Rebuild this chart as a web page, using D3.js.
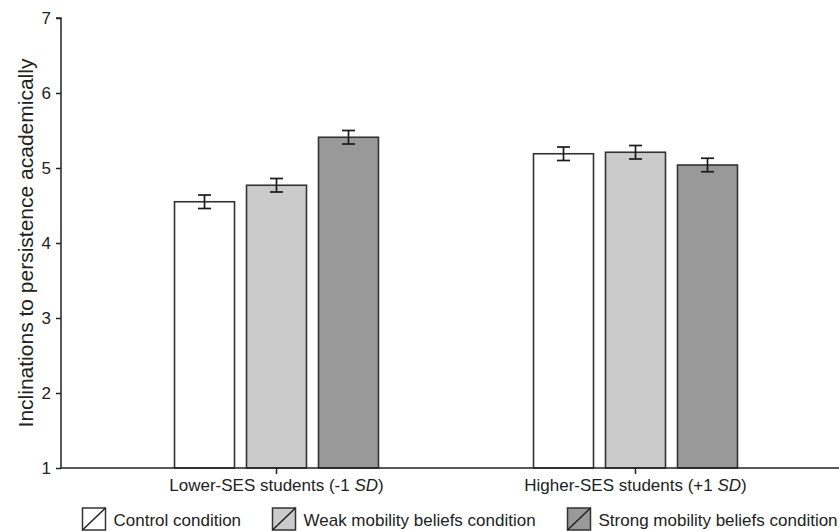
<!DOCTYPE html>
<html>
<head>
<meta charset="utf-8">
<script src="https://cdn.jsdelivr.net/npm/d3@7"></script>
<style>
  html, body { margin: 0; padding: 0; background: #fff; }
  svg { display: block; font-family: "Liberation Sans", Arial, sans-serif; }
</style>
</head>
<body>
<svg id="chart" width="839" height="531"></svg>
<script>
// Groups on the x axis and the three experimental conditions
const groups = ["Lower-SES students (-1 SD)", "Higher-SES students (+1 SD)"];
const groupMain = ["Lower-SES students (-1 ", "Higher-SES students (+1 "];
const conditions = ["Control condition", "Weak mobility beliefs condition", "Strong mobility beliefs condition"];
const fills = ["#ffffff", "#cbcbcb", "#999999"];

// Means for each condition within a group, and their standard errors
const controlMeans = [4.55, 5.19];
const weakMeans = [4.77, 5.21];
const strongMeans = [5.41, 5.04];
const controlErr = [0.09, 0.09];
const weakErr = [0.09, 0.09];
const strongErr = [0.09, 0.09];

const yTicks = [1, 2, 3, 4, 5, 6, 7];

const means = [controlMeans, weakMeans, strongMeans];
const errs = [controlErr, weakErr, strongErr];
const rows = [];
groups.forEach((g, gi) => {
  conditions.forEach((c, ci) => {
    rows.push({ group: g, cond: c, ci, value: means[ci][gi], err: errs[ci][gi] });
  });
});

const svg = d3.select("#chart");
const axisLeft = 61, axisBottom = 468, axisTop = 18;

const y = d3.scaleLinear().domain([1, 7]).range([axisBottom, axisTop]);
const x0 = d3.scaleBand().domain(groups).range([61, 851])
  .paddingInner(0.4318).paddingOuter(0.3162);
const x1 = d3.scaleBand().domain(conditions).range([0, x0.bandwidth()])
  .paddingInner(0.1667).paddingOuter(0);

// Bars
const g = svg.append("g");
g.selectAll("rect.bar").data(rows).join("rect")
  .attr("class", "bar")
  .attr("x", d => x0(d.group) + x1(d.cond))
  .attr("width", x1.bandwidth())
  .attr("y", d => y(d.value))
  .attr("height", d => y(1) - y(d.value))
  .attr("fill", d => fills[d.ci])
  .attr("stroke", "#333")
  .attr("stroke-width", 1.6);

// Error bars
const capHalf = 6.5;
const eb = g.selectAll("g.err").data(rows).join("g").attr("class", "err")
  .attr("stroke", "#1a1a1a").attr("stroke-width", 1.7);
eb.append("line")
  .attr("x1", d => x0(d.group) + x1(d.cond) + x1.bandwidth() / 2)
  .attr("x2", d => x0(d.group) + x1(d.cond) + x1.bandwidth() / 2)
  .attr("y1", d => y(d.value + d.err))
  .attr("y2", d => y(d.value - d.err));
[1, -1].forEach(s => {
  eb.append("line")
    .attr("x1", d => x0(d.group) + x1(d.cond) + x1.bandwidth() / 2 - capHalf)
    .attr("x2", d => x0(d.group) + x1(d.cond) + x1.bandwidth() / 2 + capHalf)
    .attr("y1", d => y(d.value + s * d.err))
    .attr("y2", d => y(d.value + s * d.err));
});

// Y axis
const yAxis = d3.axisLeft(y).tickValues(yTicks).tickSize(5).tickPadding(5)
  .tickFormat(d3.format("d"));
const yg = svg.append("g").attr("transform", `translate(${axisLeft},0)`).call(yAxis);
yg.select(".domain").attr("d", `M-5,${axisTop}H0V${axisBottom}`).attr("stroke", "#222").attr("stroke-width", 1.5);
yg.selectAll(".tick line").attr("stroke", "#222").attr("stroke-width", 1.5);
yg.selectAll(".tick text").attr("font-size", 17).attr("fill", "#222")
  .attr("font-family", "Liberation Sans, Arial, sans-serif");

// X axis
const xAxis = d3.axisBottom(x0).tickSize(6).tickFormat(() => "");
const xg = svg.append("g").attr("transform", `translate(0,${axisBottom})`).call(xAxis);
xg.select(".domain").attr("d", `M${axisLeft},0H839`).attr("stroke", "#222").attr("stroke-width", 1.5);
xg.selectAll(".tick line").attr("stroke", "#222").attr("stroke-width", 1.5);
xg.selectAll(".tick").append("text")
  .attr("y", 23).attr("text-anchor", "middle").attr("fill", "#222")
  .attr("font-size", 17).attr("font-family", "Liberation Sans, Arial, sans-serif")
  .each(function (d, i) {
    const t = d3.select(this);
    t.append("tspan").text(groupMain[i]);
    t.append("tspan").attr("font-style", "italic").text("SD");
    t.append("tspan").text(")");
  });

// Y axis title
svg.append("text")
  .attr("transform", `translate(33,${243}) rotate(-90)`)
  .attr("text-anchor", "middle")
  .attr("font-size", 21)
  .attr("fill", "#222")
  .text("Inclinations to persistence academically");

// Legend
const legendX = [82.5, 272.5, 567.5];
const leg = svg.append("g").selectAll("g").data(conditions).join("g")
  .attr("transform", (d, i) => `translate(${legendX[i]},508)`);
leg.append("rect").attr("width", 23).attr("height", 22)
  .attr("fill", (d, i) => fills[i]).attr("stroke", "#333").attr("stroke-width", 1.5);
leg.append("line").attr("x1", 0).attr("y1", 22).attr("x2", 23).attr("y2", 0)
  .attr("stroke", "#222").attr("stroke-width", 1.5);
leg.append("text").attr("x", 31).attr("y", 18).attr("font-size", 17).attr("fill", "#222")
  .text(d => d);
</script>
</body>
</html>
